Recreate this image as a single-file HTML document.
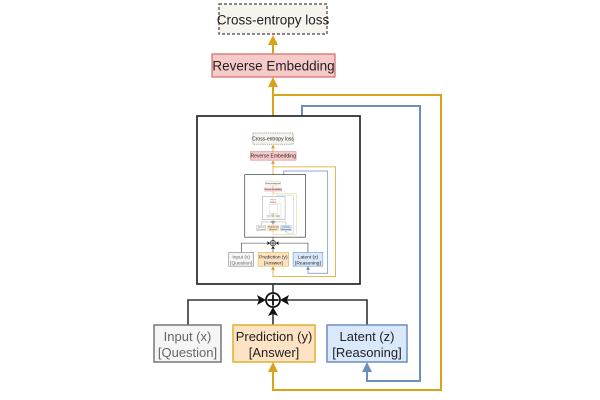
<!DOCTYPE html>
<html><head><style>
html,body{margin:0;padding:0;background:#fff;width:600px;height:400px;overflow:hidden}
svg{display:block}
text{font-family:"Liberation Sans",sans-serif;fill:#222}
</style></head><body>
<svg width="600" height="400" viewBox="0 0 600 400">
<defs>
<g id="d0">
  <!-- CE box -->
  <rect x="219" y="4" width="108" height="30" fill="#f7f4ee" stroke="#444" stroke-width="1.2" stroke-dasharray="3,2"/>
  <text x="273" y="24.5" font-size="13.5" text-anchor="middle">Cross-entropy loss</text>
  <!-- RE box -->
  <rect x="212" y="54" width="123" height="23" fill="#f7caca" stroke="#d36a6a" stroke-width="1.2"/>
  <text x="273.5" y="70.5" font-size="13.5" text-anchor="middle">Reverse Embedding</text>
  <!-- yellow main -->
  <line x1="273" y1="116" x2="273" y2="84" stroke="#d9a21b" stroke-width="2"/>
  <polygon points="273,77 268,87 278,87" fill="#d9a21b"/>
  <line x1="273" y1="54" x2="273" y2="42" stroke="#d9a21b" stroke-width="2"/>
  <polygon points="273,35 268,45 278,45" fill="#d9a21b"/>
  <polyline points="273,95 441,95 441,390 273,390 273,370" fill="none" stroke="#d9a21b" stroke-width="2"/>
  <polygon points="273,362 268,372 278,372" fill="#d9a21b"/>
  <!-- blue loop -->
  <polyline points="302,118 302,106 420,106 420,381 367,381 367,370" fill="none" stroke="#6c8ebf" stroke-width="2"/>
  <polygon points="367,362 362,372 372,372" fill="#6c8ebf"/>
  <!-- big box -->
  <rect x="197" y="116" width="163" height="168" fill="#fff" stroke="#333" stroke-width="1.8"/>
  <!-- combine -->
  <line x1="273" y1="284" x2="273" y2="293" stroke="#333" stroke-width="1.6"/>
  <circle cx="273" cy="300" r="7" fill="#fff" stroke="#111" stroke-width="1.8"/>
  <line x1="273" y1="294.5" x2="273" y2="305.5" stroke="#111" stroke-width="1.8"/>
  <line x1="267.5" y1="300" x2="278.5" y2="300" stroke="#111" stroke-width="1.8"/>
  <polyline points="188,325 188,300 262,300" fill="none" stroke="#333" stroke-width="1.6"/>
  <polygon points="266,300 257,295 259,300 257,305" fill="#111"/>
  <polyline points="367,325 367,300 284,300" fill="none" stroke="#333" stroke-width="1.6"/>
  <polygon points="280,300 289,295 287,300 289,305" fill="#111"/>
  <line x1="273" y1="325" x2="273" y2="312" stroke="#333" stroke-width="1.6"/>
  <polygon points="273,307 268,316 273,314 278,316" fill="#111"/>
  <!-- bottom boxes -->
  <rect x="154" y="325" width="67" height="37" fill="#f5f5f5" stroke="#777" stroke-width="1.5"/>
  <text x="187.5" y="341" font-size="13" text-anchor="middle" style="fill:#666">Input (x)</text>
  <text x="187.5" y="357" font-size="13" text-anchor="middle" style="fill:#666">[Question]</text>
  <rect x="233" y="325" width="82" height="37" fill="#fde3c4" stroke="#e0b030" stroke-width="1.5"/>
  <text x="274" y="341" font-size="13" text-anchor="middle">Prediction (y)</text>
  <text x="274" y="357" font-size="13" text-anchor="middle">[Answer]</text>
  <rect x="327" y="325" width="80" height="37" fill="#dae8fc" stroke="#6c8ebf" stroke-width="1.5"/>
  <text x="367" y="341" font-size="13" text-anchor="middle">Latent (z)</text>
  <text x="367" y="357" font-size="13" text-anchor="middle">[Reasoning]</text>
</g>
<g id="d1">
  <use href="#d0"/>
  <g transform="translate(273,133) scale(0.372) translate(-273,-4)"><use href="#d0"/></g>
</g>
<g id="d2">
  <use href="#d0"/>
  <g transform="translate(273,133) scale(0.372) translate(-273,-4)"><use href="#d1"/></g>
</g>
</defs>
<use href="#d0"/>
<g transform="translate(273,133) scale(0.372) translate(-273,-4)"><use href="#d2"/></g>
</svg>
</body></html>
